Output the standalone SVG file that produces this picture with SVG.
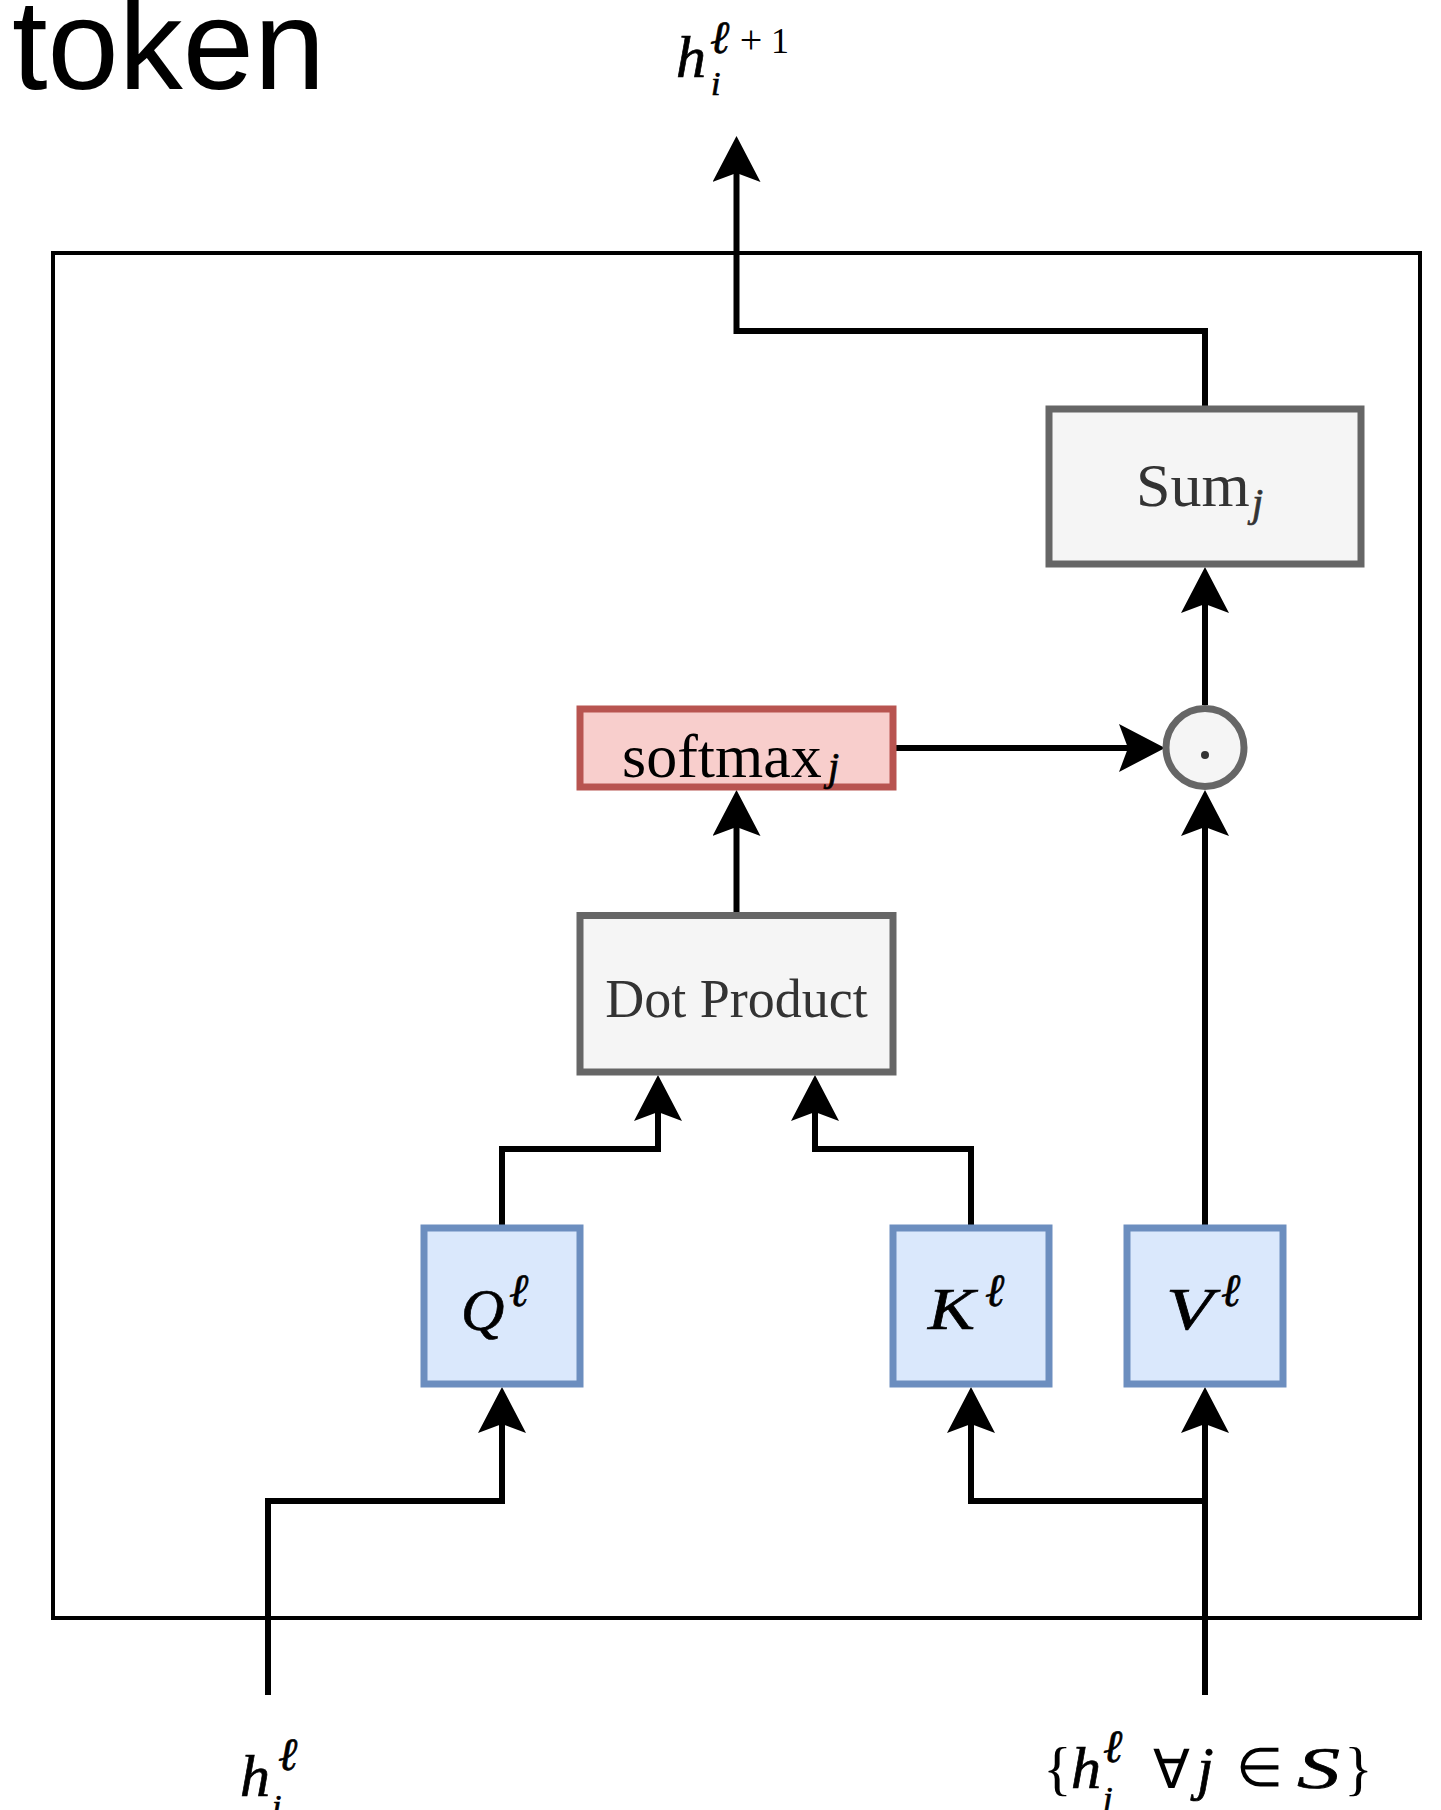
<svg xmlns="http://www.w3.org/2000/svg" width="1441" height="1810" viewBox="0 0 1441 1810">
<style>
.box{stroke-width:7}
.grey{fill:#f5f5f5;stroke:#666666}
.red{fill:#f8cecc;stroke:#b85450}
.blue{fill:#dae8fc;stroke:#6c8ebf}
.edge{fill:none;stroke:#000;stroke-width:6;marker-end:url(#arr)}
.serif{font-family:"Liberation Serif","Times New Roman",serif}
.math{font-family:"Liberation Serif","DejaVu Serif",serif;font-style:italic;stroke:#000;stroke-width:0.7}
.sans{font-family:"Liberation Sans",Arial,sans-serif}
</style>
<defs>
<marker id="arr" markerUnits="userSpaceOnUse" viewBox="0 0 48 48" refX="26" refY="24" markerWidth="48" markerHeight="48" orient="auto">
<path d="M46,24 L0,0 L9,24 L0,48 Z" fill="#000"/>
</marker>
</defs>
<rect width="1441" height="1810" fill="#fff"/>

<g id="title">
<text class="sans" x="12" y="89" font-size="128" fill="#000">token</text>
</g>

<g id="frame">
<rect x="53" y="253" width="1367" height="1365" fill="none" stroke="#000" stroke-width="4"/>
</g>

<g id="connectors">
<path class="edge" d="M1205,409 V331 H736.5 V156"/>
<path class="edge" d="M1205,705 V587"/>
<path class="edge" d="M896,748 H1145"/>
<path class="edge" d="M1205,1228 V810"/>
<path class="edge" d="M736.5,915 V810"/>
<path class="edge" d="M502,1228 V1149 H658 V1095"/>
<path class="edge" d="M971,1228 V1149 H815 V1095"/>
<path class="edge" d="M268,1695 V1501 H502 V1407"/>
<path class="edge" d="M1205,1695 V1407"/>
<path class="edge" d="M1205,1501 H971 V1407"/>
</g>

<g id="sum">
<rect class="box grey" x="1049" y="409" width="312" height="155"/>
<text class="serif" x="1136" y="506" font-size="62" fill="#333">Sum</text>
<text class="math" x="1252" y="516" font-size="40" fill="#333" style="stroke:#333">j</text>
</g>

<g id="hadamard">
<circle cx="1205" cy="747.5" r="39" fill="#f5f5f5" stroke="#666666" stroke-width="7"/>
<circle cx="1205" cy="755" r="4" fill="#333"/>
</g>

<g id="softmax">
<rect class="box red" x="580" y="709" width="313" height="78"/>
<text class="serif" x="622" y="777" font-size="62" fill="#000">softmax</text>
<text class="math" x="828" y="780" font-size="40" fill="#000">j</text>
</g>

<g id="dotproduct">
<rect class="box grey" x="580" y="915.5" width="313" height="156.5"/>
<text class="serif" x="736.5" y="1017" font-size="54" fill="#333" text-anchor="middle">Dot Product</text>
</g>

<g id="query">
<rect class="box blue" x="424" y="1228" width="156" height="156"/>
<text class="math" x="461" y="1330" font-size="60" fill="#000">Q</text>
<text class="math" x="509" y="1306" font-size="46" fill="#000">ℓ</text>
</g>

<g id="key">
<rect class="box blue" x="893" y="1228" width="156" height="156"/>
<text class="math" x="928" y="1329" font-size="60" fill="#000" textLength="47" lengthAdjust="spacingAndGlyphs">K</text>
<text class="math" x="985" y="1306" font-size="46" fill="#000">ℓ</text>
</g>

<g id="value">
<rect class="box blue" x="1127" y="1228" width="156" height="156"/>
<text class="math" x="1166" y="1329" font-size="60" fill="#000" textLength="47" lengthAdjust="spacingAndGlyphs">V</text>
<text class="math" x="1221" y="1306" font-size="46" fill="#000">ℓ</text>
</g>

<g id="output-label">
<text class="math" x="676" y="77" font-size="60" fill="#000">h</text>
<text class="math" x="711" y="95" font-size="34" fill="#000">i</text>
<text class="math" x="710" y="53" font-size="46" fill="#000">ℓ</text>
<text class="serif" x="751" y="53" font-size="40" fill="#000" text-anchor="middle">+</text>
<text class="serif" x="780" y="53" font-size="36" fill="#000" text-anchor="middle">1</text>
</g>

<g id="input-i">
<text class="math" x="240" y="1796" font-size="60" fill="#000">h</text>
<text class="math" x="278" y="1770" font-size="46" fill="#000">ℓ</text>
<text class="math" x="272" y="1818" font-size="34" fill="#000">i</text>
</g>

<g id="input-set">
<text class="serif" x="1043" y="1788" font-size="60" fill="#000">{</text>
<text class="math" x="1071" y="1788" font-size="60" fill="#000">h</text>
<text class="math" x="1103" y="1762" font-size="46" fill="#000">ℓ</text>
<text class="math" x="1103" y="1810" font-size="34" fill="#000">j</text>
<text class="serif" x="1153" y="1788" font-size="54" fill="#000">∀</text>
<text class="math" x="1197" y="1788" font-size="60" fill="#000">j</text>
<text class="serif" x="1236" y="1786" font-size="54" fill="#000">∈</text>
<text class="math" x="1297" y="1788" font-size="60" fill="#000" textLength="43" lengthAdjust="spacingAndGlyphs">S</text>
<text class="serif" x="1344" y="1788" font-size="60" fill="#000">}</text>
</g>
</svg>
